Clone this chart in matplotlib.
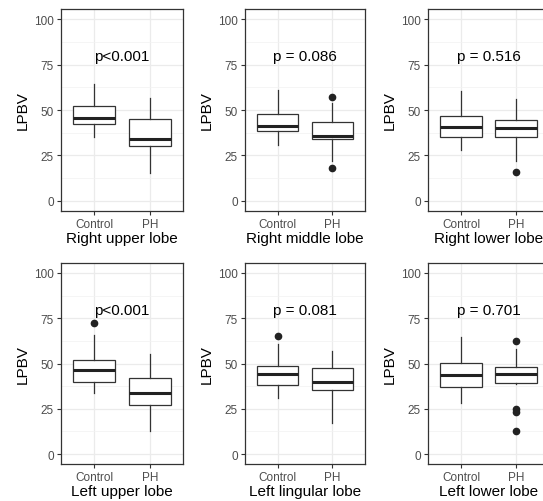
import matplotlib.pyplot as plt
from matplotlib.ticker import MultipleLocator

plt.rcParams['font.family'] = ['Liberation Sans', 'DejaVu Sans']

# box summaries: [Control, PH]
lobes = ["Right upper lobe", "Right middle lobe", "Right lower lobe",
         "Left upper lobe", "Left lingular lobe", "Left lower lobe"]
p_text = ["p<0.001", "p = 0.086", "p = 0.516",
          "p<0.001", "p = 0.081", "p = 0.701"]
groups = ["Control", "PH"]

whislo = [[35.0, 15.4], [31.0, 22.2], [28.0, 22.2],
          [33.6, 12.8], [30.8, 17.0], [28.1, 38.5]]
q1 = [[42.1, 30.0], [38.6, 34.0], [35.3, 35.3],
      [40.0, 27.2], [38.2, 35.2], [37.1, 39.4]]
med = [[45.4, 34.0], [41.0, 35.9], [40.5, 40.0],
       [46.2, 33.9], [44.0, 40.0], [43.5, 44.0]]
q3 = [[52.0, 45.0], [47.8, 43.2], [46.5, 44.7],
      [51.9, 42.2], [48.6, 47.3], [50.1, 48.1]]
whishi = [[64.3, 56.8], [61.2, 53.8], [60.3, 56.0],
          [66.0, 55.0], [60.6, 56.9], [64.8, 57.8]]
fliers = [[[], []], [[], [57.0, 18.0]], [[], [15.8]],
          [[72.1], []], [[65.1], []], [[], [62.2, 25.1, 23.3, 12.8]]]

fig = plt.figure(figsize=(5.43, 5.02), dpi=100)

lefts = [61, 245, 428]
widths = [122, 120, 121]
tops = [10, 264]
heights = [202, 201]
W, H = 543.0, 502.0

dark = "#333333"
for i in range(6):
    r, c = divmod(i, 3)
    ax = fig.add_axes([lefts[c] / W, 1 - (tops[r] + heights[r]) / H,
                       widths[c] / W, heights[r] / H])
    stats = []
    for g in range(2):
        stats.append(dict(whislo=whislo[i][g], q1=q1[i][g], med=med[i][g],
                          q3=q3[i][g], whishi=whishi[i][g], fliers=fliers[i][g]))
    ax.bxp(stats, positions=[1, 2], widths=0.75, showcaps=False, patch_artist=True,
           boxprops=dict(facecolor="white", edgecolor=dark, linewidth=0.9),
           whiskerprops=dict(color=dark, linewidth=0.9),
           medianprops=dict(color="#222222", linewidth=2.2),
           flierprops=dict(marker="o", markerfacecolor="#222222",
                           markeredgecolor="#222222", markersize=4.5),
           zorder=3)
    ax.set_xlim(0.4, 2.6)
    ax.set_ylim(-5.5, 105.5)
    ax.set_yticks([0, 25, 50, 75, 100])
    ax.yaxis.set_minor_locator(MultipleLocator(12.5))
    ax.set_xticks([1, 2])
    ax.set_xticklabels(groups)
    ax.grid(True, which="major", color="#EBEBEB", linewidth=0.9, zorder=0)
    ax.grid(True, which="minor", axis="y", color="#F2F2F2", linewidth=0.5, zorder=0)
    ax.set_axisbelow(True)
    ax.tick_params(axis="both", which="major", length=3, width=0.8, color=dark,
                   labelsize=8.5, labelcolor="#4D4D4D", pad=2)
    ax.tick_params(which="minor", length=0)
    for s in ax.spines.values():
        s.set_color(dark)
        s.set_linewidth(0.9)
    ax.set_ylabel("LPBV", fontsize=11, labelpad=3)
    ax.set_xlabel(lobes[i], fontsize=11, labelpad=1)
    ax.text(1.5, 79.5, p_text[i], ha="center", va="center", fontsize=11, color="black")

fig.savefig("out.png", dpi=100)
